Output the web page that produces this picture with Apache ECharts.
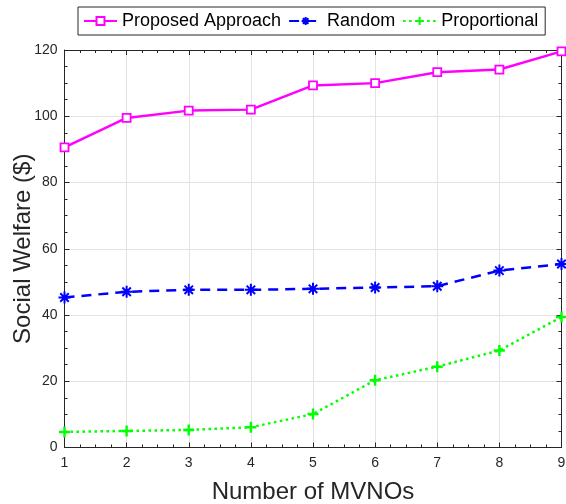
<!DOCTYPE html>
<html>
<head>
<meta charset="utf-8">
<script src="https://cdn.jsdelivr.net/npm/echarts@6/dist/echarts.min.js"></script>
<style>
  html, body { margin: 0; padding: 0; background: #fff; }
  #chart { width: 566px; height: 504px; }
</style>
</head>
<body>
<div id="chart"></div>
<script>
// Number of MVNOs on the horizontal axis
const mvnoCounts = [1, 2, 3, 4, 5, 6, 7, 8, 9];
// Social welfare ($) for each allocation scheme
const proposedApproach = [90.6, 99.5, 101.7, 102.0, 109.3, 110.0, 113.3, 114.1, 119.6];
const randomScheme = [45.3, 47.0, 47.6, 47.6, 47.9, 48.3, 48.7, 53.4, 55.4];
const proportionalScheme = [4.7, 5.0, 5.3, 6.1, 10.1, 20.3, 24.4, 29.3, 39.4];
const seriesNames = ['Proposed Approach', 'Random', 'Proportional'];

const asteriskPath = 'path://M0,-10L0,10M-10,0L10,0M-7.07,-7.07L7.07,7.07M-7.07,7.07L7.07,-7.07';
const plusPath = 'path://M0,-10L0,10M-10,0L10,0';

const pair = (vals) => mvnoCounts.map((x, i) => [x, vals[i]]);
const axisColor = '#262626';
const font = 'Liberation Sans, Arial, Helvetica, sans-serif';

const chart = echarts.init(document.getElementById('chart'), null, { renderer: 'canvas' });

const boxAxis = {
  axisLine: { show: true, onZero: false, lineStyle: { color: axisColor, width: 1 } },
  axisTick: { show: true, inside: true, length: 5, lineStyle: { color: axisColor } },
  minorTick: { show: true, splitNumber: 4, length: 3, lineStyle: { color: axisColor } },
  axisLabel: { show: false },
  splitLine: { show: false }
};

chart.setOption({
  animation: false,
  backgroundColor: '#fff',
  textStyle: { fontFamily: font },
  legend: {
    top: 7,
    left: 78,
    orient: 'horizontal',
    padding: [5, 7, 5, 5],
    itemGap: 7,
    itemWidth: 33,
    itemHeight: 10,
    borderColor: '#262626',
    borderWidth: 1,
    borderRadius: 0,
    backgroundColor: '#fff',
    textStyle: { fontSize: 18, color: '#000', fontFamily: font },
    data: seriesNames
  },
  grid: { left: 64.5, right: 4.5, top: 50, bottom: 56.5, containLabel: false, outerBoundsMode: 'none' },
  xAxis: [
    {
      type: 'value', min: 1, max: 9, interval: 1, position: 'bottom',
      name: 'Number of MVNOs', nameLocation: 'middle', nameGap: 33, nameMoveOverlap: false,
      nameTextStyle: { fontSize: 24, color: axisColor, fontFamily: font },
      axisLine: { show: true, onZero: false, lineStyle: { color: axisColor, width: 1 } },
      axisTick: { show: true, inside: true, length: 5, lineStyle: { color: axisColor } },
      minorTick: { show: true, splitNumber: 4, length: 3, lineStyle: { color: axisColor } },
      axisLabel: { fontSize: 14, color: axisColor, margin: 9, fontFamily: font },
      splitLine: { show: true, lineStyle: { color: '#e3e3e3', width: 1 } }
    },
    Object.assign({ type: 'value', min: 1, max: 9, interval: 1, position: 'top' }, boxAxis)
  ],
  yAxis: [
    {
      type: 'value', min: 0, max: 120, interval: 20, position: 'left',
      name: 'Social Welfare ($)', nameLocation: 'middle', nameGap: 29, nameRotate: 90, nameMoveOverlap: false,
      nameTextStyle: { fontSize: 24, color: axisColor, fontFamily: font },
      axisLine: { show: true, onZero: false, lineStyle: { color: axisColor, width: 1 } },
      axisTick: { show: true, inside: true, length: 5, lineStyle: { color: axisColor } },
      minorTick: { show: true, splitNumber: 4, length: 3, lineStyle: { color: axisColor } },
      axisLabel: { fontSize: 14, color: axisColor, margin: 7, fontFamily: font },
      splitLine: { show: true, lineStyle: { color: '#e3e3e3', width: 1 } }
    },
    Object.assign({ type: 'value', min: 0, max: 120, interval: 20, position: 'right' }, boxAxis)
  ],
  series: [
    {
      name: seriesNames[0], type: 'line', data: pair(proposedApproach),
      symbol: 'rect', symbolSize: 8,
      lineStyle: { color: '#ff00ff', width: 2.5 },
      itemStyle: { color: '#fff', borderColor: '#ff00ff', borderWidth: 1.8 },
      z: 4
    },
    {
      name: seriesNames[1], type: 'line', data: pair(randomScheme),
      symbol: asteriskPath, symbolSize: 12, symbolKeepAspect: true,
      lineStyle: { color: '#0000ff', width: 2.5, type: [10, 7] },
      itemStyle: { color: '#0000ff', borderColor: '#0000ff', borderWidth: 2 },
      z: 3
    },
    {
      name: seriesNames[2], type: 'line', data: pair(proportionalScheme),
      symbol: plusPath, symbolSize: 11, symbolKeepAspect: true,
      lineStyle: { color: '#00ff00', width: 2.5, type: [2.5, 3.5] },
      itemStyle: { color: '#00ff00', borderColor: '#00ff00', borderWidth: 2.4 },
      z: 2
    }
  ]
});
</script>
</body>
</html>
